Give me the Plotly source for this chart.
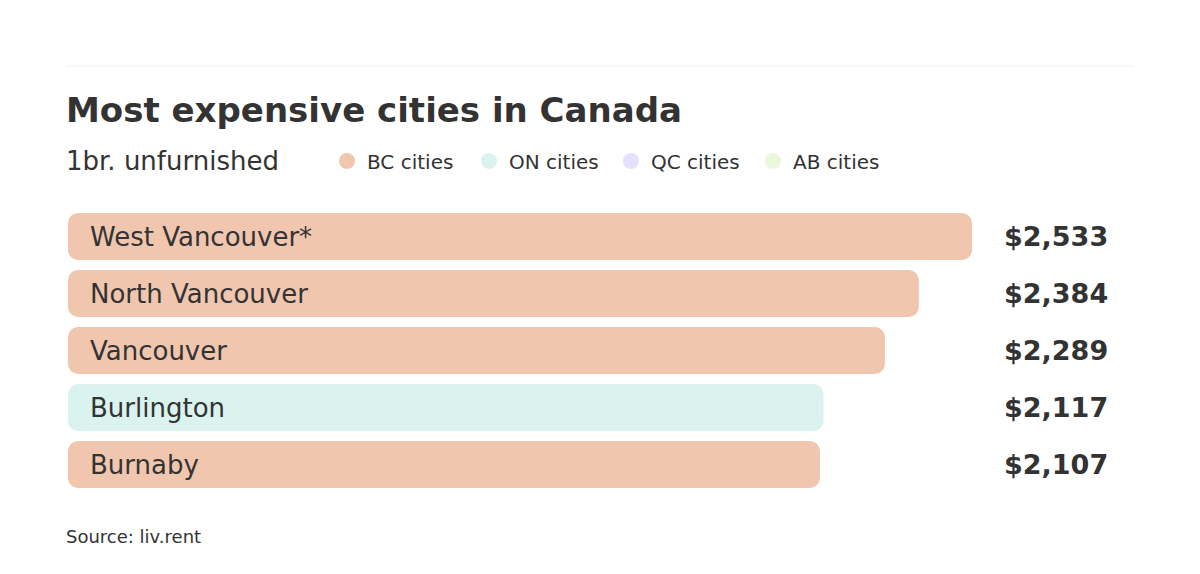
import plotly.graph_objects as go

# ---- data ----
cities = ["West Vancouver*", "North Vancouver", "Vancouver", "Burlington", "Burnaby"]
rents = [2533, 2384, 2289, 2117, 2107]
provinces = ["BC", "BC", "BC", "ON", "BC"]
legend_groups = ["BC", "ON", "QC", "AB"]
legend_labels = ["BC cities", "ON cities", "QC cities", "AB cities"]
value_labels = ["$2,533", "$2,384", "$2,289", "$2,117", "$2,107"]

title_text = "Most expensive cities in Canada"
subtitle_text = "1br. unfurnished"
source_text = "Source: liv.rent"

# ---- styles ----
colors = {"BC": "#f1c6af", "ON": "#daf3ef", "QC": "#e5e0fc", "AB": "#ecf8dc"}
FONT = "DejaVu Sans"
TXT = "#333333"
W, H = 1200, 574
L, R, T, B = 68, 66, 208, 81
PW, PH = W - L - R, H - T - B


def py(p):  # pixel y -> paper y
    return (H - B - p) / PH


def px(p):  # pixel x -> paper x
    return (p - L) / PW


fig = go.Figure()

# Each bar is drawn as two overlapping halves so that both ends get rounded corners
for g in legend_groups:
    xs = [v for v, pr in zip(rents, provinces) if pr == g]
    ys = [c for c, pr in zip(cities, provinces) if pr == g]
    if not xs:
        continue
    # right half: from 0.4*v to v, rounded at the right end
    fig.add_trace(go.Bar(x=[v * 0.6 for v in xs], base=[v * 0.4 for v in xs], y=ys, orientation="h",
                         marker=dict(color=colors[g], line=dict(width=0)),
                         showlegend=False, hoverinfo="skip"))
    # left half: from 0.6*v back to 0, rounded at the left end
    fig.add_trace(go.Bar(x=[-v * 0.6 for v in xs], base=[v * 0.6 for v in xs], y=ys, orientation="h",
                         marker=dict(color=colors[g], line=dict(width=0)),
                         showlegend=False, hoverinfo="skip"))

for g, lab in zip(legend_groups, legend_labels):
    fig.add_trace(go.Scatter(x=[None], y=[None], mode="markers", name=lab,
                             marker=dict(symbol="circle", size=18, color=colors[g])))

annotations = []
for c, v, lab in zip(cities, rents, value_labels):
    annotations.append(dict(x=0, y=c, xref="x", yref="y", text=c, showarrow=False,
                            xanchor="left", yanchor="middle", xshift=20,
                            font=dict(family=FONT, size=26, color=TXT)))
    annotations.append(dict(x=px(1056), y=c, xref="paper", yref="y", text=lab, showarrow=False,
                            xanchor="center", yanchor="middle",
                            font=dict(family=FONT, size=27, color=TXT, weight="bold")))

annotations.append(dict(x=px(64), y=py(110), xref="paper", yref="paper", text=title_text, showarrow=False,
                        xanchor="left", yanchor="middle",
                        font=dict(family=FONT, size=34, color=TXT, weight="bold")))
annotations.append(dict(x=px(64), y=py(161), xref="paper", yref="paper", text=subtitle_text, showarrow=False,
                        xanchor="left", yanchor="middle",
                        font=dict(family=FONT, size=26, color=TXT)))
annotations.append(dict(x=px(64), y=py(536), xref="paper", yref="paper", text=source_text, showarrow=False,
                        xanchor="left", yanchor="middle",
                        font=dict(family=FONT, size=18, color=TXT)))

fig.update_layout(
    width=W, height=H,
    margin=dict(l=L, r=R, t=T, b=B, pad=0),
    paper_bgcolor="white", plot_bgcolor="white",
    barmode="overlay", bargap=10 / 57, barcornerradius=10,
    font=dict(family=FONT, color=TXT),
    xaxis=dict(range=[0, 2533 * PW / 904], visible=False, fixedrange=True),
    yaxis=dict(categoryorder="array", categoryarray=cities, autorange="reversed",
               visible=False, fixedrange=True),
    legend=dict(orientation="h", x=px(327), y=py(161), xanchor="left", yanchor="middle",
                font=dict(family=FONT, size=20, color=TXT), bgcolor="rgba(0,0,0,0)",
                entrywidth=97, itemclick=False, itemdoubleclick=False),
    annotations=annotations,
    shapes=[dict(type="line", xref="paper", yref="paper", x0=px(66), x1=px(1134), y0=py(66), y1=py(66),
                 line=dict(color="#eeeeee", width=1))],
    showlegend=True,
)

fig.write_html("out.html", config={"displayModeBar": False},
               post_script="document.body.style.margin='0';")
